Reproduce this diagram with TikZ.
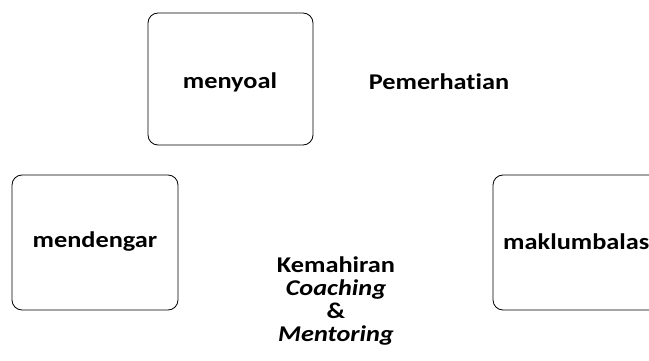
\documentclass[tikz,border=0pt]{standalone}
\usepackage{fontspec}
\setmainfont[Ligatures=CommonOff]{Carlito}
\usetikzlibrary{positioning}

\begin{document}
\begin{tikzpicture}[x=1pt,y=-1pt,
  skillbox/.style={draw,thick,rounded corners=10pt},
  skilltext/.style={font=\fontsize{22.5}{23}\selectfont\bfseries,xscale=1.17,transform shape}]
  \useasboundingbox (0,0) rectangle (649,361);
  \clip (0,0) rectangle (649,361);
  % boxes
  \draw[skillbox] (148,13) rectangle (313,145);
  \draw[skillbox] (12,175) rectangle (178,310);
  \draw[skillbox] (493,175) rectangle (670,310);
  % labels
  \node[skilltext] (soal) at (230,82) {menyoal};
  \node[skilltext] (hati) at (439,82) {Pemerhatian};
  \node[skilltext] (dengar) at (95,242) {mendengar};
  \node[skilltext,anchor=west,inner sep=0pt] (balas) at (503,242) {maklumbalas};
  % centre
  \node[skilltext,align=center] (mahir) at (336,301)
    {Kemahiran\\\textit{Coaching}\\\&\\\textit{Mentoring}};
\end{tikzpicture}
\end{document}
